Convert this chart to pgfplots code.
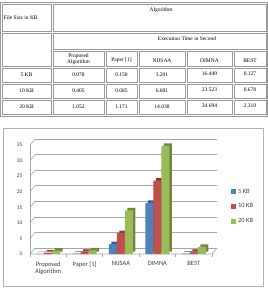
\documentclass[border=0pt]{standalone}
\usepackage{fontspec}
\setmainfont{Liberation Serif}
\newfontfamily\calib{Carlito}
\usepackage{pgfplots}
\pgfplotsset{compat=1.18}

\definecolor{cBlue}{HTML}{4F81BD}
\definecolor{cBlueD}{HTML}{385D8A}
\definecolor{cRed}{HTML}{C0504D}
\definecolor{cRedD}{HTML}{8C3836}
\definecolor{cGreen}{HTML}{9BBB59}
\definecolor{cGreenD}{HTML}{71893F}
\definecolor{cellline}{HTML}{9A9A9A}
\definecolor{gridc}{HTML}{A6A6A6}

\begin{document}
\begin{tikzpicture}
\useasboundingbox (0,0) rectangle (268bp,-289bp);

% ---- results table ----
\begin{scope}[x=1bp,y=-1bp,font=\fontsize{5.5}{6.5}\selectfont]
  \draw[cellline,line width=0.8bp] (0.5,2.5) rectangle (267.5,116.5);
  \foreach \a/\b/\c/\d in {2/4/51/31, 53/4/266/31, 2/33/51/66, 53/33/266/49,
                           53/51/104/66, 106/51/137/66, 139/51/185/66, 187/51/232/66, 234/51/266/66}
    \draw[cellline,line width=1bp] (\a,\b) rectangle (\c,\d);
  \foreach \b/\d in {68/82, 84/98, 100/114}
    \foreach \a/\c in {2/51, 53/104, 106/137, 139/185, 187/232, 234/266}
      \draw[cellline,line width=1bp] (\a,\b) rectangle (\c,\d);

  \node[anchor=west,inner sep=0pt] at (3.5,17.5) {File Size in KB};
  \node[inner sep=0pt] at (161,10) {Algorithm};
  \node[inner sep=0pt] at (187,38.5) {Execution Time in Second};
  \node[inner sep=0pt,align=center,font=\fontsize{5.5}{6.5}\selectfont] at (78.5,59) {Proposed\\Algorithm};
  \node[inner sep=0pt] at (121.5,60) {Paper [1]};
  \node[inner sep=0pt] at (162,60.5) {NIJSAA};
  \node[inner sep=0pt] at (209.5,60.5) {DIMNA};
  \node[inner sep=0pt] at (250,60.5) {BEST};

  \foreach \y/\f/\p/\q/\n/\dd/\bb in {75/5 KB/0.078/0.150/3.201/16.449/0.127,
                                     91/10 KB/0.405/0.685/6.681/23.523/0.678,
                                     107/20 KB/1.052/1.171/14.038/34.694/2.319}{
    \node[inner sep=0pt] at (26.5,\y) {\f};
    \node[inner sep=0pt] at (78.5,\y) {\p};
    \node[inner sep=0pt] at (121.5,\y) {\q};
    \node[inner sep=0pt] at (162,\y) {\n};
    \node[inner sep=0pt] at (209.5,\y-0.8) {\dd};
    \node[inner sep=0pt] at (250,\y-0.8) {\bb};
  }
\end{scope}

% ---- chart frame ----
\draw[gray!60,line width=0.8bp] (3bp,-128bp) rectangle (263bp,-286bp);

\begin{axis}[
  at={(30bp,-254bp)}, anchor=south west,
  scale only axis, width=182bp, height=109bp,
  xmin=-0.5, xmax=4.5, ymin=0, ymax=35,
  axis line style={draw=none},
  major tick length=0pt,
  ytick={0,5,...,35},
  xtick={0,1,2,3,4},
  xticklabels={{Proposed\\Algorithm},{Paper [1]},{NIJSAA},{DIMNA},{BEST}},
  xticklabel style={align=center,font=\calib\fontsize{6.5}{8}\selectfont,text=black!75,yshift=-4bp},
  yticklabel style={font=\calib\fontsize{5.5}{6}\selectfont,text=black!75,xshift=-4bp},
  /pgf/number format/assume math mode=true,
  ybar=0pt, bar width=8bp,
  clip=false,
  legend style={at={(1.104,0.615)},anchor=north west,draw=none,fill=none,
    font=\calib\fontsize{6.5}{7}\selectfont,text=black!75,row sep=5bp,inner sep=0pt},
  legend cell align=left,
  legend image code/.code={\fill[#1] (0bp,-2.5bp) rectangle (5bp,2.5bp);},
]
% back wall grid and left wall
\pgfplotsinvokeforeach{0,5,...,35}{
  \draw[gridc,line width=0.6bp] ([shift={(5bp,6bp)}]axis cs:-0.5,#1) -- ([shift={(5bp,6bp)}]axis cs:4.5,#1);
  \draw[gridc,line width=0.6bp] (axis cs:-0.5,#1) -- ([shift={(5bp,6bp)}]axis cs:-0.5,#1);
}
\draw[gridc,line width=0.6bp] (axis cs:-0.5,0) -- (axis cs:-0.5,35);
% floor
\draw[gridc,line width=0.6bp] (axis cs:-0.5,0) -- (axis cs:4.5,0) -- ([shift={(5bp,6bp)}]axis cs:4.5,0);
\pgfplotsinvokeforeach{-0.5,0.5,...,4.5}{
  \draw[gridc,line width=0.6bp] (axis cs:#1,0) -- ++(0bp,-3bp);
}

% 5 KB
\addplot[forget plot,fill=cBlueD,draw=none,bar shift=-8bp,xshift=2.5bp,yshift=2.5bp]
  coordinates {(0,0.078) (1,0.150) (2,3.201) (3,16.449) (4,0.127)};
\addplot[fill=cBlue,draw=none,bar shift=-8bp]
  coordinates {(0,0.078) (1,0.150) (2,3.201) (3,16.449) (4,0.127)};
% 10 KB
\addplot[forget plot,fill=cRedD,draw=none,bar shift=0bp,xshift=2.5bp,yshift=2.5bp]
  coordinates {(0,0.405) (1,0.685) (2,6.681) (3,23.523) (4,0.678)};
\addplot[fill=cRed,draw=none,bar shift=0bp]
  coordinates {(0,0.405) (1,0.685) (2,6.681) (3,23.523) (4,0.678)};
% 20 KB
\addplot[forget plot,fill=cGreenD,draw=none,bar shift=8bp,xshift=2.5bp,yshift=2.5bp]
  coordinates {(0,1.052) (1,1.171) (2,14.038) (3,34.694) (4,2.319)};
\addplot[fill=cGreen,draw=none,bar shift=8bp]
  coordinates {(0,1.052) (1,1.171) (2,14.038) (3,34.694) (4,2.319)};

\legend{5 KB,10 KB,20 KB}
\end{axis}
\end{tikzpicture}
\end{document}
